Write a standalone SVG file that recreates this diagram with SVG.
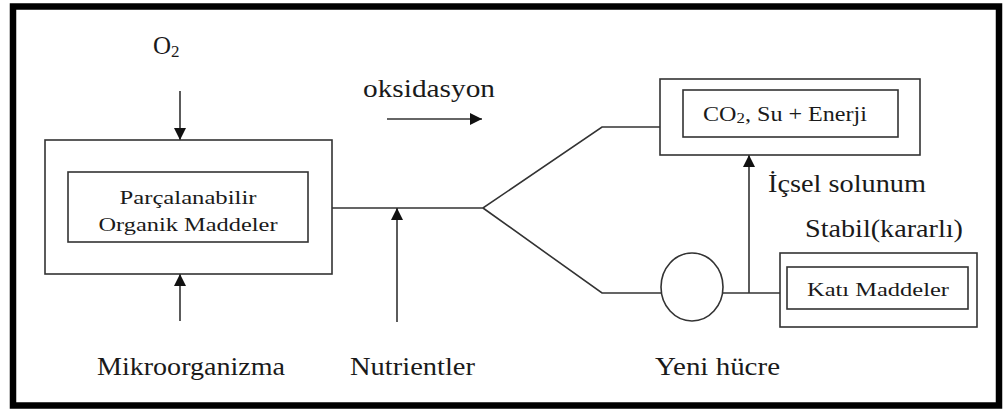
<svg xmlns="http://www.w3.org/2000/svg" width="1004" height="412" viewBox="0 0 1004 412">
<style>
.box{fill:#fff;stroke:#333;stroke-width:1.6}
.ln{fill:none;stroke:#333;stroke-width:1.6}
text{font-family:'Liberation Serif','DejaVu Serif',serif;fill:#1a1a1a}
.lg{font-size:25px}
.sm{font-size:19px}
</style>
<defs>
<marker id="ah" markerUnits="userSpaceOnUse" markerWidth="12" markerHeight="12" viewBox="0 0 12 12" refX="12" refY="6" orient="auto">
<path d="M0,0 L12,6 L0,12 Z" fill="#111"/>
</marker>
</defs>
<rect x="13" y="6.5" width="986" height="399" fill="#fff" stroke="#000" stroke-width="6.5"/>

<g id="connectors">
<line class="ln" x1="180" y1="91" x2="180" y2="140" marker-end="url(#ah)"/>
<line class="ln" x1="180" y1="321" x2="180" y2="274" marker-end="url(#ah)"/>
<line class="ln" x1="387" y1="119" x2="482" y2="119" marker-end="url(#ah)"/>
<polyline class="ln" points="332,208 483,208 602,127 660,127"/>
<polyline class="ln" points="483,208 602,293 661,293"/>
<line class="ln" x1="397" y1="322" x2="397" y2="208" marker-end="url(#ah)"/>
<line class="ln" x1="723" y1="293" x2="780" y2="293"/>
<line class="ln" x1="749" y1="293" x2="749" y2="155" marker-end="url(#ah)"/>
</g>

<g id="organik">
<rect class="box" x="45" y="140" width="287" height="134"/>
<rect class="box" x="68" y="172" width="240" height="70"/>
<text class="sm" x="188" y="204" text-anchor="middle" textLength="137" lengthAdjust="spacingAndGlyphs">Parçalanabilir</text>
<text class="sm" x="188" y="231" text-anchor="middle" textLength="179" lengthAdjust="spacingAndGlyphs">Organik Maddeler</text>
</g>

<g id="co2">
<rect class="box" x="660" y="79" width="260" height="76"/>
<rect class="box" x="683" y="90" width="215" height="47"/>
<text x="703" y="121" font-size="20" textLength="164" lengthAdjust="spacingAndGlyphs">CO<tspan font-size="14" dy="2">2</tspan><tspan dy="-2">, Su + Enerji</tspan></text>
</g>

<g id="yeni-hucre">
<ellipse class="ln" cx="692" cy="287" rx="31" ry="34"/>
</g>

<g id="kati">
<rect class="box" x="780" y="253" width="197" height="74"/>
<rect class="box" x="787" y="267" width="181" height="42"/>
<text class="sm" x="878" y="296" text-anchor="middle" textLength="142" lengthAdjust="spacingAndGlyphs">Katı Maddeler</text>
</g>

<g id="labels">
<text class="lg" x="153" y="54">O<tspan font-size="17" dy="3">2</tspan></text>
<text class="lg" x="363" y="97" textLength="132" lengthAdjust="spacingAndGlyphs">oksidasyon</text>
<text class="lg" x="768" y="192" textLength="158" lengthAdjust="spacingAndGlyphs">İçsel solunum</text>
<text class="lg" x="805" y="237" textLength="158" lengthAdjust="spacingAndGlyphs">Stabil(kararlı)</text>
<text class="lg" x="97" y="375" textLength="188" lengthAdjust="spacingAndGlyphs">Mikroorganizma</text>
<text class="lg" x="350" y="375" textLength="125" lengthAdjust="spacingAndGlyphs">Nutrientler</text>
<text class="lg" x="655" y="375" textLength="125" lengthAdjust="spacingAndGlyphs">Yeni hücre</text>
</g>
</svg>
